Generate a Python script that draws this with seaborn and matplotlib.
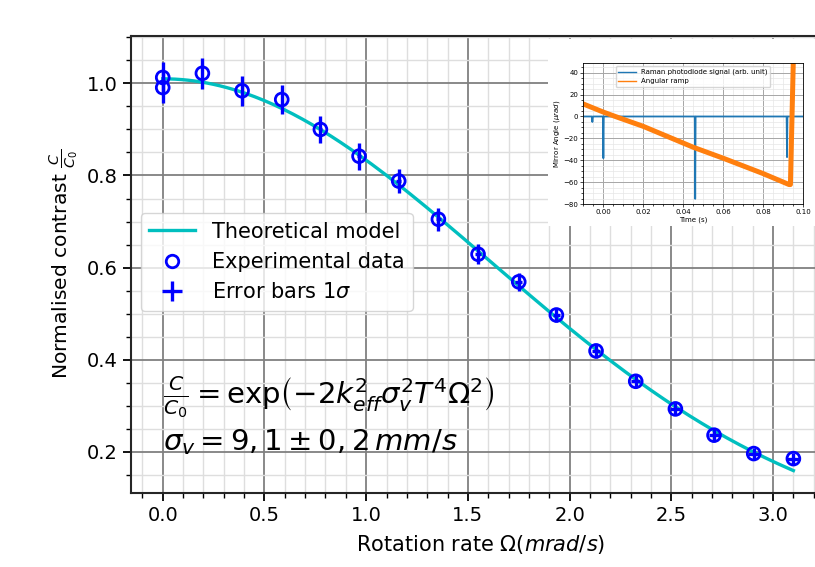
import numpy as np
import pandas as pd
import seaborn as sns
import matplotlib.pyplot as plt
from matplotlib.lines import Line2D
from matplotlib.patches import Rectangle
from matplotlib.ticker import MultipleLocator

omega = [0.0, 0.0, 0.195, 0.39, 0.585, 0.775, 0.965, 1.16, 1.355, 1.55,
         1.75, 1.935, 2.13, 2.325, 2.52, 2.71, 2.905, 3.10]
contrast = [1.013, 0.991, 1.022, 0.984, 0.965, 0.900, 0.842, 0.788, 0.705, 0.629,
            0.569, 0.497, 0.419, 0.353, 0.293, 0.236, 0.196, 0.185]
contrast_err = [0.033, 0.033, 0.034, 0.032, 0.032, 0.030, 0.029, 0.027, 0.025, 0.022,
                0.020, 0.016, 0.016, 0.013, 0.013, 0.013, 0.012, 0.012]
omega_err = [0.0, 0.0, 0.002, 0.004, 0.006, 0.008, 0.010, 0.012, 0.014, 0.016,
             0.018, 0.019, 0.021, 0.023, 0.025, 0.027, 0.029, 0.031]

# Theoretical model parameters (C/C0 = exp(-2 k_eff^2 sigma_v^2 T^4 Omega^2))
k_eff = 4 * np.pi / 780.24e-9   # 1/m
sigma_v = 9.1e-3                # m/s
T = 46e-3                       # s
C0_fit = 1.01

# Inset traces
ramp_t = [-0.0095, 0.0, 0.006, 0.02, 0.045, 0.06, 0.08, 0.093, 0.0937, 0.0952]
ramp_angle = [11, 4, 0, -9, -28, -38, -52, -62, -62, 55]
raman_t = [-0.0102, -0.0058, -0.0055, -0.0052, -0.0002, 0.0, 0.0002, 0.0458, 0.046,
           0.0462, 0.0918, 0.092, 0.0922, 0.1]
raman_sig = [0, 0, -5, 0, 0, -38, 0, 0, -75, 0, 0, -37, 0, 0]

df = pd.DataFrame({'omega': omega, 'contrast': contrast})
model_x = np.linspace(0, 3.1, 200)
model_y = C0_fit * np.exp(-2 * k_eff**2 * sigma_v**2 * T**4 * (model_x * 1e-3)**2)
model = pd.DataFrame({'omega': model_x, 'contrast': model_y})

W, H = 815, 567
fig = plt.figure(figsize=(W / 100, H / 100), dpi=100)
ax = fig.add_axes([131 / W, (H - 492.7) / H, (830 - 131) / W, (492.7 - 36) / H])

sns.lineplot(data=model, x='omega', y='contrast', ax=ax, color='c', lw=2.4, zorder=2)
ax.errorbar(omega, contrast, xerr=omega_err, yerr=contrast_err, fmt='none',
            ecolor='blue', elinewidth=2.4, zorder=3)
sns.scatterplot(data=df, x='omega', y='contrast', ax=ax, marker='o', s=85,
                facecolors='none', edgecolor='blue', linewidth=2.0, zorder=4)

ax.set_xlim(-0.156, 3.28)
ax.set_ylim(0.111, 1.103)
ax.xaxis.set_major_locator(MultipleLocator(0.5))
ax.xaxis.set_minor_locator(MultipleLocator(0.1))
ax.yaxis.set_major_locator(MultipleLocator(0.2))
ax.yaxis.set_minor_locator(MultipleLocator(0.05))
ax.grid(which='major', color='0.5', lw=1.3)
ax.grid(which='minor', color='0.87', lw=1.0)
ax.set_axisbelow(True)
ax.tick_params(which='major', length=6, width=1.3, labelsize=14)
ax.tick_params(which='minor', length=3.5, width=1.0)
for s in ['left', 'bottom', 'top']:
    ax.spines[s].set_linewidth(1.5)
    ax.spines[s].set_color('0.15')
ax.spines['right'].set_visible(False)

ax.set_xlabel(r'Rotation rate $\Omega (mrad/s)$', fontsize=15, labelpad=6)
ax.set_ylabel(r'Normalised contrast $\frac{C}{C_0}$', fontsize=14.6, labelpad=5)

ax.text(0.0, 0.318, r'$\frac{C}{C_0} = \exp\!\left(-2k_{eff}^2\sigma_v^2T^4\Omega^2\right)$',
        fontsize=21, va='center', ha='left')
ax.text(0.0, 0.221, r'$\sigma_v = 9,1 \pm 0,2\, mm/s$', fontsize=21, va='center', ha='left')

handles = [
    Line2D([], [], color='c', lw=2.4),
    Line2D([], [], ls='none', marker='o', mfc='none', mec='blue', mew=2.0, ms=9),
    Line2D([], [], ls='none', marker='+', color='blue', mew=2.4, ms=15),
]
labels = ['Theoretical model', 'Experimental data', r'Error bars 1$\sigma$']
ax.legend(handles, labels, loc='upper left', bbox_to_anchor=(0.014, 0.612),
          borderaxespad=0, fontsize=15, framealpha=0.8, borderpad=0.4,
          labelspacing=0.5, handlelength=2.2, handletextpad=0.8)

# inset figure with white background box
fig.patches.append(Rectangle((548 / W, (H - 226) / H), (W - 548) / W, (226 - 39) / H,
                             transform=fig.transFigure, facecolor='white',
                             edgecolor='none', zorder=5))
axi = fig.add_axes([583 / W, (H - 204.3) / H, (803 - 583) / W, (204.3 - 62.7) / H], zorder=6)
axi.plot(raman_t, raman_sig, color='#1f77b4', lw=1.3, label='Raman photodiode signal (arb. unit)')
axi.plot(ramp_t, ramp_angle, color='#ff7f0e', lw=3.6, label='Angular ramp')
axi.set_xlim(-0.0102, 0.1)
axi.set_ylim(-80, 49)
axi.xaxis.set_major_locator(MultipleLocator(0.02))
axi.xaxis.set_minor_locator(MultipleLocator(0.005))
axi.yaxis.set_major_locator(MultipleLocator(20))
axi.yaxis.set_minor_locator(MultipleLocator(5))
axi.grid(which='major', color='0.65', lw=0.7)
axi.grid(which='minor', color='0.9', lw=0.5)
axi.tick_params(which='both', labelsize=5, length=2, width=0.5, pad=1.5)
axi.tick_params(which='minor', length=1.2)
for s in axi.spines.values():
    s.set_linewidth(0.6)
axi.set_xlabel('Time (s)', fontsize=5, labelpad=1)
axi.set_ylabel(r'Mirror Angle ($\mu rad$)', fontsize=5, labelpad=1)
axi.legend(handles=[Line2D([], [], color='#1f77b4', lw=1.0),
                    Line2D([], [], color='#ff7f0e', lw=1.0)],
           labels=['Raman photodiode signal (arb. unit)', 'Angular ramp'],
           loc='upper center', fontsize=5, framealpha=0.8, borderpad=0.4,
           handlelength=2.5, labelspacing=0.4)

fig.savefig('out.png', dpi=100)
